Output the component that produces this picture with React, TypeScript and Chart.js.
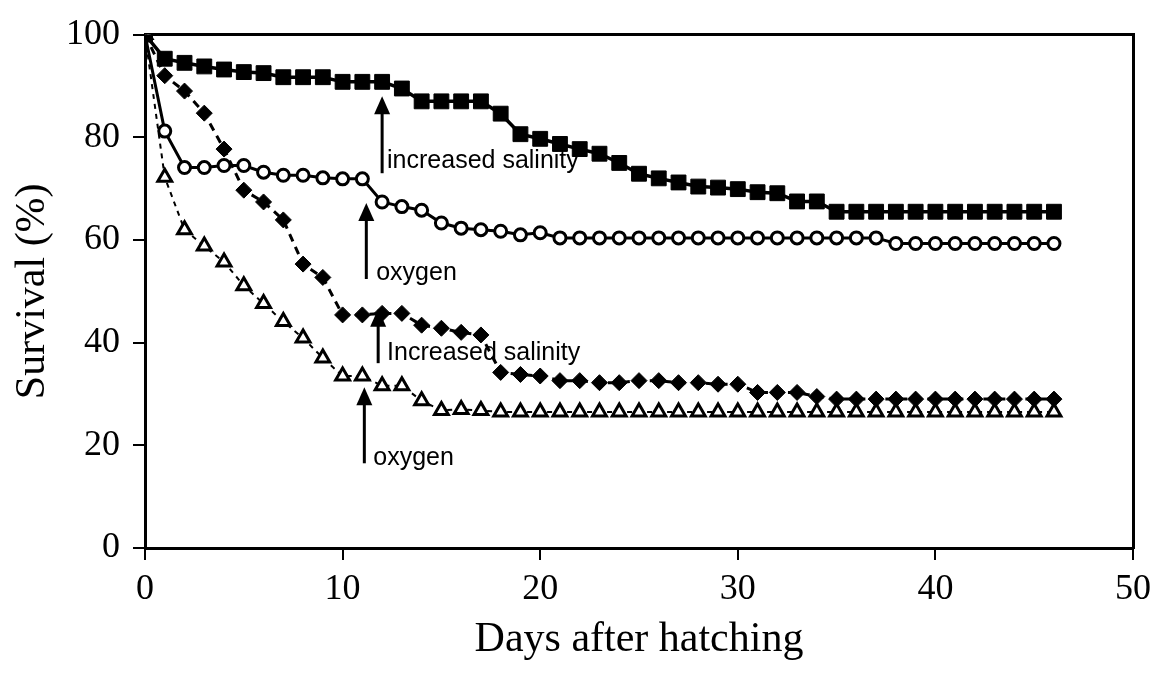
import { useEffect, useRef } from 'react';
import { Chart, registerables } from 'chart.js';

Chart.register(...registerables);

// Days after hatching (x values)
const days = [
  0, 1, 2, 3, 4, 5, 6, 7, 8, 9, 10, 11, 12, 13, 14, 15, 16, 17, 18, 19, 20, 21, 22, 23,
  24, 25, 26, 27, 28, 29, 30, 31, 32, 33, 34, 35, 36, 37, 38, 39, 40, 41, 42, 43, 44, 45, 46,
];

// Filled squares, solid line
const squares = [
  100, 95.3, 94.5, 93.8, 93.2, 92.7, 92.5, 91.7, 91.7, 91.7, 90.8, 90.8, 90.8, 89.5, 87, 87,
  87, 87, 84.6, 80.6, 79.7, 78.7, 77.7, 76.8, 75, 72.9, 72, 71.2, 70.4, 70.2, 69.9, 69.3,
  69.1, 67.5, 67.5, 65.5, 65.5, 65.5, 65.5, 65.5, 65.5, 65.5, 65.5, 65.5, 65.5, 65.5, 65.5,
];

// Open circles, solid line
const circles = [
  100, 81.2, 74.1, 74.1, 74.5, 74.5, 73.2, 72.6, 72.6, 72.1, 71.9, 71.9, 67.4, 66.5, 65.8, 63.3,
  62.3, 62, 61.7, 61, 61.4, 60.4, 60.4, 60.4, 60.4, 60.4, 60.4, 60.4, 60.4, 60.4, 60.4, 60.4,
  60.4, 60.4, 60.4, 60.4, 60.4, 60.4, 59.3, 59.3, 59.3, 59.3, 59.3, 59.3, 59.3, 59.3, 59.3,
];

// Filled diamonds, dashed line
const diamonds = [
  100, 92, 89, 84.7, 77.7, 69.7, 67.4, 63.9, 55.3, 52.7, 45.4, 45.4, 45.7, 45.7, 43.4, 42.8,
  42, 41.5, 34.2, 33.8, 33.5, 32.6, 32.6, 32.2, 32.2, 32.6, 32.6, 32.2, 32.2, 31.9, 31.9, 30.3,
  30.3, 30.3, 29.5, 29, 29, 29, 29, 29, 29, 29, 29, 29, 29, 29, 29,
];

// Open triangles, dashed line
const triangles = [
  100, 72.2, 62, 58.8, 55.7, 51.1, 47.6, 44.1, 40.9, 37, 33.5, 33.5, 31.6, 31.6, 28.7, 26.8,
  27, 26.8, 26.5, 26.5, 26.5, 26.5, 26.5, 26.5, 26.5, 26.5, 26.5, 26.5, 26.5, 26.5, 26.5, 26.5,
  26.5, 26.5, 26.5, 26.5, 26.5, 26.5, 26.5, 26.5, 26.5, 26.5, 26.5, 26.5, 26.5, 26.5, 26.5,
];

const xTicks = [0, 10, 20, 30, 40, 50];
const yTicks = [0, 20, 40, 60, 80, 100];

// Arrow annotations (in data units)
const annotationText = ['increased salinity', 'oxygen', 'Increased salinity', 'oxygen'];
const annotationX = [12, 11.2, 11.8, 11.1];
const annotationTip = [88, 67.2, 46.6, 31.3];
const annotationTail = [73, 52.4, 36, 16.5];
const annotationTextX = [12.25, 11.7, 12.25, 11.55];
const annotationTextY = [75.4, 53.6, 38, 17.5];

const SERIF = '"Liberation Serif", "Times New Roman", Times, serif';
const SANS = '"Liberation Sans", Arial, Helvetica, sans-serif';

const toPoints = (vals: number[]) => days.map((d, i) => ({ x: d, y: vals[i] }));

const arrowPlugin = {
  id: 'arrows',
  afterDatasetsDraw(chart: any) {
    const { ctx, scales } = chart;
    const xs = scales.x;
    const ys = scales.y;
    ctx.save();
    ctx.fillStyle = '#000';
    ctx.strokeStyle = '#000';
    annotationText.forEach((text, i) => {
      const px = xs.getPixelForValue(annotationX[i]);
      const tip = ys.getPixelForValue(annotationTip[i]);
      const tail = ys.getPixelForValue(annotationTail[i]);
      const headLen = 18;
      const headHalf = 8;
      ctx.lineWidth = 3;
      ctx.beginPath();
      ctx.moveTo(px, tail);
      ctx.lineTo(px, tip + headLen - 2);
      ctx.stroke();
      ctx.beginPath();
      ctx.moveTo(px, tip);
      ctx.lineTo(px - headHalf, tip + headLen);
      ctx.lineTo(px + headHalf, tip + headLen);
      ctx.closePath();
      ctx.fill();
      ctx.font = `25px ${SANS}`;
      ctx.textAlign = 'left';
      ctx.textBaseline = 'middle';
      ctx.fillText(text, xs.getPixelForValue(annotationTextX[i]), ys.getPixelForValue(annotationTextY[i]));
    });
    ctx.restore();
  },
};

export default function App() {
  const ref = useRef<HTMLCanvasElement>(null);

  useEffect(() => {
    const canvas = ref.current;
    if (!canvas) return;
    const chart = new Chart(canvas, {
      type: 'line',
      data: {
        datasets: [
          {
            label: 'squares',
            data: toPoints(squares),
            borderColor: '#000',
            backgroundColor: '#000',
            borderWidth: 3.5,
            pointStyle: 'rect',
            pointRadius: 10.5,
            pointBackgroundColor: '#000',
            pointBorderColor: '#000',
            pointBorderWidth: 1,
          },
          {
            label: 'circles',
            data: toPoints(circles),
            borderColor: '#000',
            backgroundColor: '#fff',
            borderWidth: 3,
            pointStyle: 'circle',
            pointRadius: 6,
            pointBackgroundColor: '#fff',
            pointBorderColor: '#000',
            pointBorderWidth: 3,
          },
          {
            label: 'diamonds',
            data: toPoints(diamonds),
            borderColor: '#000',
            backgroundColor: '#000',
            borderWidth: 3,
            borderDash: [8, 6],
            pointStyle: 'rectRot',
            pointRadius: 8,
            pointBackgroundColor: '#000',
            pointBorderColor: '#000',
            pointBorderWidth: 1,
          },
          {
            label: 'triangles',
            data: toPoints(triangles),
            borderColor: '#000',
            backgroundColor: '#fff',
            borderWidth: 2,
            borderDash: [5, 5],
            pointStyle: 'triangle',
            pointRadius: 8,
            pointBackgroundColor: '#fff',
            pointBorderColor: '#000',
            pointBorderWidth: 3,
          },
        ],
      },
      options: {
        animation: false,
        responsive: false,
        events: [],
        layout: { padding: { left: 0, top: 0, right: 0, bottom: 0 } },
        plugins: {
          legend: { display: false },
          tooltip: { enabled: false },
        },
        scales: {
          x: {
            type: 'linear',
            position: 'bottom',
            min: 0,
            max: 50,
            afterBuildTicks: (s: any) => {
              s.ticks = xTicks.map((v) => ({ value: v }));
            },
            ticks: {
              color: '#000',
              font: { family: SERIF, size: 36 },
              padding: 8,
              maxRotation: 0,
              autoSkip: false,
            },
            grid: {
              display: true,
              drawOnChartArea: false,
              drawTicks: true,
              tickLength: 12,
              color: '#000',
              lineWidth: 2,
            },
            border: { display: true, color: '#000', width: 3 },
            title: {
              display: true,
              text: 'Days after hatching',
              color: '#000',
              font: { family: SERIF, size: 42 },
              padding: { top: 0, bottom: 20 },
            },
            afterFit: (s: any) => {
              s.height = 137;
            },
          },
          x2: {
            type: 'linear',
            position: 'top',
            min: 0,
            max: 50,
            ticks: { display: false },
            grid: { display: false },
            border: { display: true, color: '#000', width: 3 },
            afterFit: (s: any) => {
              s.height = 26;
            },
          },
          y: {
            type: 'linear',
            position: 'left',
            min: 0,
            max: 100,
            afterBuildTicks: (s: any) => {
              s.ticks = yTicks.map((v) => ({ value: v }));
            },
            ticks: {
              color: '#000',
              font: { family: SERIF, size: 36 },
              padding: 13,
            },
            grid: {
              display: true,
              drawOnChartArea: false,
              drawTicks: true,
              tickLength: 12,
              color: '#000',
              lineWidth: 2,
            },
            border: { display: true, color: '#000', width: 3 },
            title: {
              display: true,
              text: 'Survival (%)',
              color: '#000',
              font: { family: SERIF, size: 42 },
              padding: { top: 8, bottom: 0 },
            },
            afterFit: (s: any) => {
              s.width = 145;
            },
          },
          y2: {
            type: 'linear',
            position: 'right',
            min: 0,
            max: 100,
            ticks: { display: false },
            grid: { display: false },
            border: { display: true, color: '#000', width: 3 },
            afterFit: (s: any) => {
              s.width = 24;
            },
          },
        },
      },
      plugins: [arrowPlugin],
    });
    return () => chart.destroy();
  }, []);

  return (
    <div style={{ position: 'fixed', left: 0, top: 0, width: 1159, height: 685, background: '#fff' }}>
      <canvas ref={ref} width={1159} height={685} style={{ display: 'block' }} />
    </div>
  );
}
